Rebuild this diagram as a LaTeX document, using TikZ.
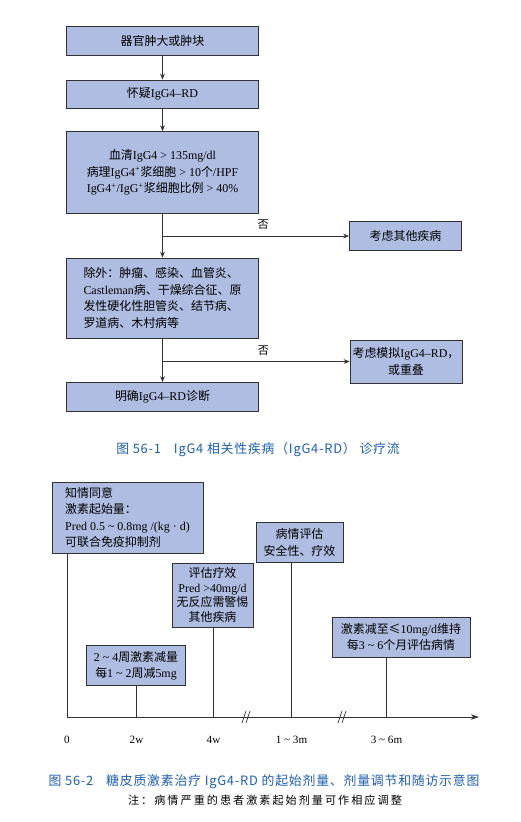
\documentclass[tikz,border=0pt]{standalone}
\usepackage{fontspec}
\setmainfont{Liberation Serif}
\newfontfamily\cjk{Noto Sans CJK SC}
\newfontfamily\cjkspaced[LetterSpace=18]{Noto Sans CJK SC}
\newfontfamily\cjkcap[LetterSpace=6]{Noto Sans CJK SC}
\usepackage{tikz}
\usetikzlibrary{arrows.meta, positioning}
\definecolor{boxblue}{RGB}{175,189,226}
\definecolor{capblue}{RGB}{32,96,170}
\definecolor{edge}{RGB}{50,50,50}
\newcommand{\zh}[1]{{\cjk #1}}

\begin{document}
\begin{tikzpicture}[x=0.03cm, y=-0.03cm,
    flowbox/.style={draw=edge, fill=boxblue, line width=0.75pt, inner sep=1pt, align=center,
                    font=\fontsize{10.2}{14}\selectfont, minimum width=5.76cm},
    sidebox/.style={flowbox, minimum width=3.36cm},
    timebox/.style={draw=edge, fill=boxblue, line width=0.75pt, inner sep=1pt, align=center,
                    font=\fontsize{10.2}{13.8}\selectfont},
    arr/.style={-{Stealth[length=5pt, width=4pt]}, draw=edge, line width=0.6pt},
    axisarr/.style={-{Stealth[length=7pt, width=4.5pt]}, draw=edge, line width=0.6pt},
    link/.style={draw=edge, line width=0.6pt},
    no/.style={above=2pt, font=\cjk\fontsize{9.5}{11}\selectfont},
    caption/.style={font=\cjkcap\fontsize{11}{13}\selectfont, text=capblue},
    ticklabel/.style={font=\fontsize{9.5}{11}\selectfont}
]
\fill[white] (0,0) rectangle (520,822);
\useasboundingbox (0,0) rectangle (520,822);

% Flow chart
\node[flowbox, minimum height=0.87cm] (organ) at (162.5,41) {\zh{器官肿大或肿块}};
\node[flowbox, minimum height=0.84cm] (suspect) at (162.5,94) {\zh{怀疑}IgG4--RD};
\node[flowbox, minimum height=2.45cm] (criteria) at (162.5,172.5)
    {\zh{血清}IgG4 > 135mg/dl\\
     \zh{病理}IgG4\textsuperscript{+}\zh{浆细胞} > 10\zh{个}/HPF\\
     IgG4\textsuperscript{+}/IgG\textsuperscript{+}\zh{浆细胞比例} > 40\%};
\node[flowbox, minimum height=2.4cm, align=left] (exclude) at (162.5,298)
    {\zh{除外：肿瘤、感染、血管炎、}\\
     Castleman\zh{病、干燥综合征、原}\\
     \zh{发性硬化性胆管炎、结节病、}\\
     \zh{罗道病、木村病等}};
\node[flowbox, minimum height=0.87cm] (confirm) at (162.5,397) {\zh{明确}IgG4--RD\zh{诊断}};
\node[sidebox, minimum height=0.87cm] (other) at (405.5,236) {\zh{考虑其他疾病}};
\node[sidebox, minimum height=1.29cm] (mimic) at (406,361.5) {\zh{考虑模拟}IgG4--RD\zh{，}\\\zh{或重叠}};

\coordinate (fork1) at (criteria.south |- other.west);
\coordinate (fork2) at (exclude.south |- mimic.west);

\draw[arr] (organ) -- (suspect);
\draw[arr] (suspect) -- (criteria);
\draw[link] (criteria) -- (fork1);
\draw[arr] (fork1) -- (exclude);
\draw[arr] (fork1) -- node[no, pos=0.54] {\zh{否}} (other);
\draw[link] (exclude) -- (fork2);
\draw[arr] (fork2) -- (confirm);
\draw[arr] (fork2) -- node[no, pos=0.54] {\zh{否}} (mimic);

\node[caption] (cap1) at (258,450) {图 56-1\quad IgG4 相关性疾病（IgG4-RD）\ 诊疗流};

% Time line
\coordinate (t0) at (67,717);
\coordinate (t2w) at (136.5,717);
\coordinate (t4w) at (213.5,717);
\coordinate (t1m) at (291.5,717);
\coordinate (t3m) at (386.5,717);
\coordinate (axisend) at (479,717);

\node[timebox, minimum width=4.53cm, minimum height=2.13cm, align=left] (consent) at (127.5,517.5)
    {\zh{知情同意}\\
     \zh{激素起始量：}\\
     Pred 0.5 \textasciitilde{} 0.8mg /(kg · d)\\
     \zh{可联合免疫抑制剂}};
\node[timebox, minimum width=2.97cm, minimum height=1.2cm] (taper) at (136,665.5)
    {2 \textasciitilde{} 4\zh{周激素减量}\\\zh{每}1 \textasciitilde{} 2\zh{周减}5mg};
\node[timebox, minimum width=2.43cm, minimum height=1.92cm, font=\fontsize{10.2}{12.6}\selectfont] (response) at (212.5,595)
    {\zh{评估疗效}\\Pred >40mg/d\\\zh{无反应需警惕}\\\zh{其他疾病}};
\node[timebox, minimum width=2.61cm, minimum height=1.2cm] (review) at (299.5,542.5)
    {\zh{病情评估}\\\zh{安全性、疗效}};
\node[timebox, minimum width=4.14cm, minimum height=1.2cm] (maintain) at (401,637)
    {\zh{激素减至≤}10mg/d\zh{维持}\\\zh{每}3 \textasciitilde{} 6\zh{个月评估病情}};

\draw[axisarr] (t0) -- (axisend);
\foreach \t/\b in {t0/consent, t2w/taper, t4w/response, t1m/review, t3m/maintain}
    \draw[link] (\t) -- (\t |- \b.south);
\foreach \s in {244,340} {
    \draw[link] (\s-2,723) -- (\s+2,711);
    \draw[link] (\s+2,723) -- (\s+6,711);
}

\node[ticklabel, below=13pt of t0] (lab0) {0};
\node[ticklabel, below=13pt of t2w] (lab2w) {2w};
\node[ticklabel, below=13pt of t4w] (lab4w) {4w};
\node[ticklabel, below=13pt of t1m] (lab1m) {1 \textasciitilde{} 3m};
\node[ticklabel, below=13pt of t3m] (lab3m) {3 \textasciitilde{} 6m};

\node[caption] (cap2) at (264,782) {图 56-2\quad 糖皮质激素治疗 IgG4-RD 的起始剂量、剂量调节和随访示意图};
\node[font=\cjkspaced\fontsize{9.5}{11}\selectfont] (note) at (265,800) {注：病情严重的患者激素起始剂量可作相应调整};
\end{tikzpicture}
\end{document}
